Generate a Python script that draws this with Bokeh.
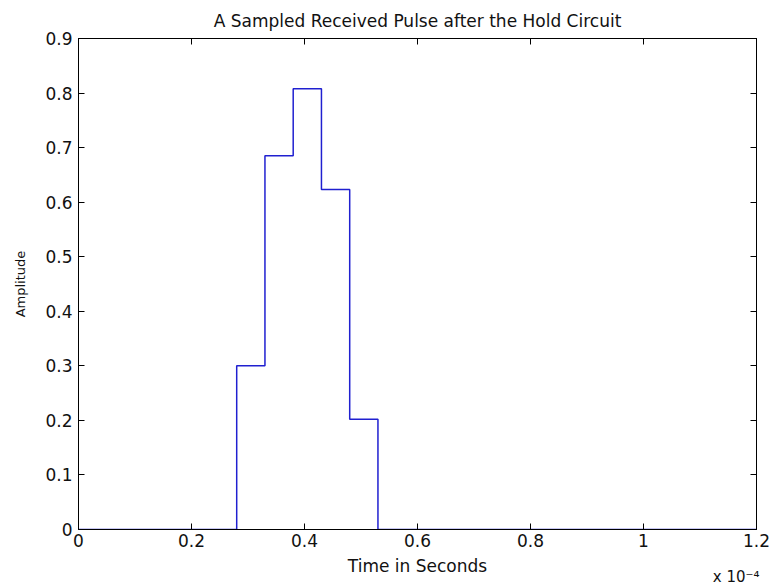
import numpy as np
from bokeh.plotting import figure
from bokeh.models import LinearAxis, Range1d, FixedTicker, Title
from bokeh.embed import file_html
from bokeh.resources import INLINE

# Data (time in units of 1e-4 s)
time_edges = [0.0, 0.28, 0.33, 0.38, 0.43, 0.48, 0.53, 1.2]
amplitude = [0.0, 0.300, 0.685, 0.808, 0.623, 0.202, 0.0, 0.0]
x_ticks = [0, 0.2, 0.4, 0.6, 0.8, 1.0, 1.2]
x_tick_labels = ["0", "0.2", "0.4", "0.6", "0.8", "1", "1.2"]
y_ticks = [0, 0.1, 0.2, 0.3, 0.4, 0.5, 0.6, 0.7, 0.8, 0.9]
y_tick_labels = ["0", "0.1", "0.2", "0.3", "0.4", "0.5", "0.6", "0.7", "0.8", "0.9"]

FONT = "DejaVu Sans"
TXT = "#111111"

p = figure(width=770, height=587, output_backend="svg", toolbar_location=None,
           x_range=Range1d(0, 1.2), y_range=Range1d(0, 0.9),
           min_border_left=78, min_border_right=14, min_border_top=38, min_border_bottom=58,
           x_axis_label="Time in Seconds", y_axis_label="Amplitude")

p.title.text = "A Sampled Received Pulse after the Hold Circuit"
p.title.align = "center"
p.title.vertical_align = "middle"
p.title.text_font = FONT
p.title.text_font_size = "17px"
p.title.text_font_style = "normal"
p.title.text_color = TXT
p.title.standoff = 14

p.grid.visible = False
p.outline_line_color = "#000000"
p.background_fill_color = "white"
p.border_fill_color = "white"

def style_axis(ax, ticks, overrides=None, show_labels=True):
    ax.ticker = FixedTicker(ticks=ticks)
    if overrides:
        ax.major_label_overrides = overrides
    ax.major_tick_in = 6
    ax.major_tick_out = 0
    ax.minor_tick_in = 0
    ax.minor_tick_out = 0
    ax.axis_line_color = "#000000"
    ax.major_tick_line_color = "#000000"
    ax.major_label_text_font = FONT
    if show_labels:
        ax.major_label_text_font_size = "17px"
        ax.major_label_text_color = TXT
    else:
        ax.major_label_text_font_size = "1px"
        ax.major_label_text_color = None
        ax.major_label_standoff = 0
    ax.axis_label_text_font = FONT
    ax.axis_label_text_font_style = "normal"
    ax.axis_label_text_color = TXT

xover = {x: l for x, l in zip(x_ticks, x_tick_labels)}
yover = {y: l for y, l in zip(y_ticks, y_tick_labels)}
style_axis(p.xaxis[0], x_ticks, xover)
style_axis(p.yaxis[0], y_ticks, yover)
p.xaxis[0].major_label_standoff = 4
p.xaxis[0].axis_label_standoff = 6
p.xaxis[0].axis_label_text_font_size = "17px"
p.yaxis[0].major_label_standoff = 6
p.yaxis[0].axis_label_standoff = 14
p.yaxis[0].axis_label_text_font_size = "13px"

top = LinearAxis()
style_axis(top, x_ticks, show_labels=False)
p.add_layout(top, "above")
right = LinearAxis()
style_axis(right, y_ticks, show_labels=False)
p.add_layout(right, "right")

p.step(time_edges, amplitude, mode="after", line_color="#2020d0", line_width=1.5)

p.add_layout(Title(text="x 10\u207b\u2074", align="right", vertical_align="top",
                   offset=-3, standoff=-22,
                   text_font=FONT, text_font_size="15px", text_font_style="normal",
                   text_color=TXT), "below")

open("out.html", "w").write(file_html(p, INLINE))
